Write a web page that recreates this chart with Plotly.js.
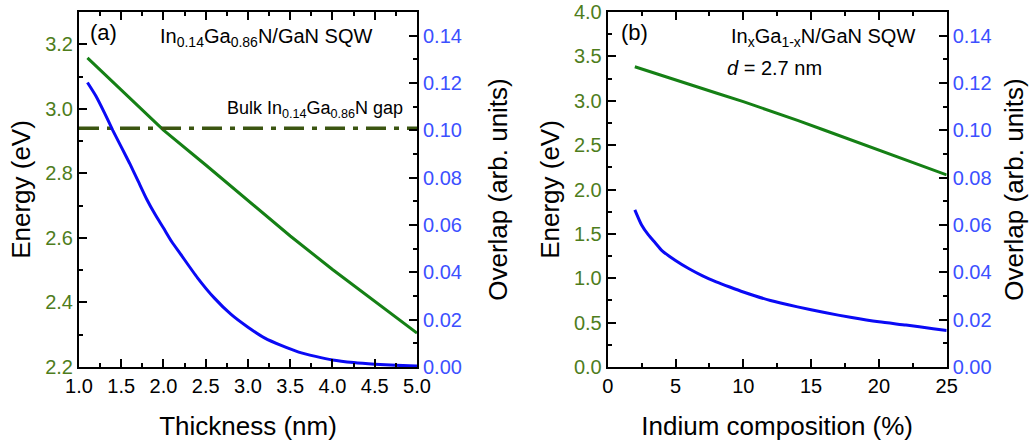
<!DOCTYPE html>
<html>
<head>
<meta charset="utf-8">
<script src="https://cdn.plot.ly/plotly-3.0.1.min.js"></script>
<style>html,body{margin:0;padding:0;background:#fff}#chart{width:1032px;height:446px}</style>
</head>
<body>
<div id="chart"></div>
<script>
// Panel (a): In0.14Ga0.86N/GaN SQW vs well thickness
const thicknessEnergy = [1.1, 1.5, 2.0, 2.5, 3.0, 3.5, 4.0, 4.5, 5.0];
const energyA = [3.158, 3.058, 2.934, 2.826, 2.716, 2.606, 2.502, 2.404, 2.305];
const thicknessOverlap = [1.1, 1.2, 1.3, 1.4, 1.5, 1.6, 1.7, 1.8, 1.9, 2.0, 2.1, 2.2, 2.4, 2.6, 2.8, 3.0, 3.2, 3.4, 3.6, 3.8, 4.0, 4.25, 4.5, 4.75, 5.0];
const overlapA = [0.1202, 0.1145, 0.1075, 0.1000, 0.0930, 0.0860, 0.0785, 0.0710, 0.0645, 0.0587, 0.0528, 0.0478, 0.0378, 0.0292, 0.0222, 0.0168, 0.0122, 0.0090, 0.0063, 0.0045, 0.0030, 0.0019, 0.0012, 0.0007, 0.0004];
const bulkGapX = [1.0, 5.0];
const bulkGapE = [2.94, 2.94];

// Panel (b): InxGa1-xN/GaN SQW, d = 2.7 nm, vs indium composition
const indiumEnergy = [2, 4, 6, 8, 10, 12, 14, 16, 18, 20, 22, 24, 25];
const energyB = [3.383, 3.282, 3.186, 3.088, 2.990, 2.886, 2.780, 2.668, 2.558, 2.448, 2.336, 2.222, 2.165];
const indiumOverlap = [2, 2.5, 3, 3.5, 4, 5, 6, 7, 8, 9, 10, 12, 14, 16, 18, 20, 22, 24, 25];
const overlapB = [0.0664, 0.0600, 0.0558, 0.0525, 0.0492, 0.0450, 0.0415, 0.0385, 0.0360, 0.0338, 0.0317, 0.0281, 0.0254, 0.0230, 0.0209, 0.0191, 0.0177, 0.0162, 0.0154];

const GREEN_LINE = '#158015';
const BLUE_LINE = '#0a0af5';
const GREEN_TXT = '#4e7d1c';
const BLUE_TXT = '#3c50ff';
const GAP_COL = '#3b5511';
const FONT = 'Liberation Sans, Arial, sans-serif';

const TOP = 12, BOT = 79, PH = 446 - TOP - BOT;
const py = (pix) => (446 - BOT - pix) / PH;   // pixel-from-top -> paper y

const traces = [
  {x: thicknessEnergy, y: energyA, xaxis: 'x', yaxis: 'y', mode: 'lines', line: {color: GREEN_LINE, width: 3}, hoverinfo: 'skip'},
  {x: bulkGapX, y: bulkGapE, xaxis: 'x', yaxis: 'y', mode: 'lines', line: {color: GAP_COL, width: 3.5, dash: '20px,8px,5px,8px'}, hoverinfo: 'skip'},
  {x: thicknessOverlap, y: overlapA, xaxis: 'x', yaxis: 'y2', mode: 'lines', line: {color: BLUE_LINE, width: 3, shape: 'spline', smoothing: 0.6}, hoverinfo: 'skip'},
  {x: indiumEnergy, y: energyB, xaxis: 'x2', yaxis: 'y3', mode: 'lines', line: {color: GREEN_LINE, width: 3}, hoverinfo: 'skip'},
  {x: indiumOverlap, y: overlapB, xaxis: 'x2', yaxis: 'y4', mode: 'lines', line: {color: BLUE_LINE, width: 3, shape: 'spline', smoothing: 0.6}, hoverinfo: 'skip'}
];

const common = {showline: true, linecolor: '#000', linewidth: 2, ticks: 'inside', ticklen: 8, tickwidth: 2, tickcolor: '#000', showgrid: false, zeroline: false, fixedrange: true, ticklabeloverflow: 'allow'};
const minorCommon = {ticks: 'inside', ticklen: 4, tickwidth: 2, tickcolor: '#000', showgrid: false};

const titleFont = {family: FONT, size: 26, color: '#000'};
const tickFontBlack = {family: FONT, size: 20, color: '#000'};
const tickFontGreen = {family: FONT, size: 20, color: GREEN_TXT};
const tickFontBlue = {family: FONT, size: 20, color: BLUE_TXT};

const layout = {
  width: 1032, height: 446,
  margin: {l: 0, r: 0, t: TOP, b: BOT},
  paper_bgcolor: '#fff', plot_bgcolor: '#fff',
  showlegend: false,
  font: {family: FONT},
  xaxis: Object.assign({}, common, {domain: [0.07655, 0.40407], anchor: 'y', range: [1, 5], tick0: 1, dtick: 0.5, tickformat: '.1f', mirror: 'ticks', tickfont: tickFontBlack,
    minor: Object.assign({}, minorCommon, {dtick: 0.25, tick0: 1}),
    title: {text: 'Thickness (nm)', font: titleFont, standoff: 21}}),
  yaxis: Object.assign({}, common, {domain: [0, 1], anchor: 'x', range: [2.2, 3.3], tick0: 2.2, dtick: 0.2, tickformat: '.1f', tickfont: tickFontGreen,
    minor: Object.assign({}, minorCommon, {dtick: 0.1, tick0: 2.2}),
    title: {text: 'Energy (eV)', font: titleFont, standoff: 7}}),
  yaxis2: Object.assign({}, common, {overlaying: 'y', side: 'right', anchor: 'x', range: [0, 0.15], tick0: 0, dtick: 0.02, tickformat: '.2f', tickfont: tickFontBlue,
    minor: Object.assign({}, minorCommon, {dtick: 0.01, tick0: 0}),
    title: {text: 'Overlap (arb. units)', font: titleFont, standoff: 28}}),
  xaxis2: Object.assign({}, common, {domain: [0.58886, 0.91734], anchor: 'y3', range: [0, 25], tick0: 0, dtick: 5, mirror: 'ticks', tickfont: tickFontBlack,
    minor: Object.assign({}, minorCommon, {dtick: 2.5, tick0: 0}),
    title: {text: 'Indium composition (%)', font: titleFont, standoff: 21}}),
  yaxis3: Object.assign({}, common, {domain: [0, 1], anchor: 'x2', range: [0, 4.0005], tick0: 0, dtick: 0.5, tickformat: '.1f', tickfont: tickFontGreen,
    minor: Object.assign({}, minorCommon, {dtick: 0.25, tick0: 0}),
    title: {text: 'Energy (eV)', font: titleFont, standoff: 7}}),
  yaxis4: Object.assign({}, common, {overlaying: 'y3', side: 'right', anchor: 'x2', range: [0, 0.15], tick0: 0, dtick: 0.02, tickformat: '.2f', tickfont: tickFontBlue,
    minor: Object.assign({}, minorCommon, {dtick: 0.01, tick0: 0}),
    title: {text: 'Overlap (arb. units)', font: titleFont, standoff: 14}}),
  annotations: [
    {xref: 'paper', yref: 'paper', x: 88/1032, y: py(32), xanchor: 'left', yanchor: 'middle', text: '(a)', showarrow: false, font: {family: FONT, size: 22, color: '#000'}},
    {xref: 'paper', yref: 'paper', x: 158/1032, y: py(37), xanchor: 'left', yanchor: 'middle', text: 'In<sub>0.14</sub>Ga<sub>0.86</sub>N/GaN SQW', showarrow: false, font: {family: FONT, size: 20, color: '#000'}},
    {xref: 'paper', yref: 'paper', x: 405/1032, y: py(110), xanchor: 'right', yanchor: 'middle', text: 'Bulk In<sub>0.14</sub>Ga<sub>0.86</sub>N gap', showarrow: false, font: {family: FONT, size: 18, color: '#000'}},
    {xref: 'paper', yref: 'paper', x: 619/1032, y: py(32), xanchor: 'left', yanchor: 'middle', text: '(b)', showarrow: false, font: {family: FONT, size: 22, color: '#000'}},
    {xref: 'paper', yref: 'paper', x: 729/1032, y: py(37), xanchor: 'left', yanchor: 'middle', text: 'In<sub>x</sub>Ga<sub>1-x</sub>N/GaN SQW', showarrow: false, font: {family: FONT, size: 20, color: '#000'}},
    {xref: 'paper', yref: 'paper', x: 725/1032, y: py(68), xanchor: 'left', yanchor: 'middle', text: '<i>d</i> = 2.7 nm', showarrow: false, font: {family: FONT, size: 20, color: '#000'}}
  ]
};

Plotly.newPlot('chart', traces, layout, {displayModeBar: false, staticPlot: true});
</script>
</body>
</html>
